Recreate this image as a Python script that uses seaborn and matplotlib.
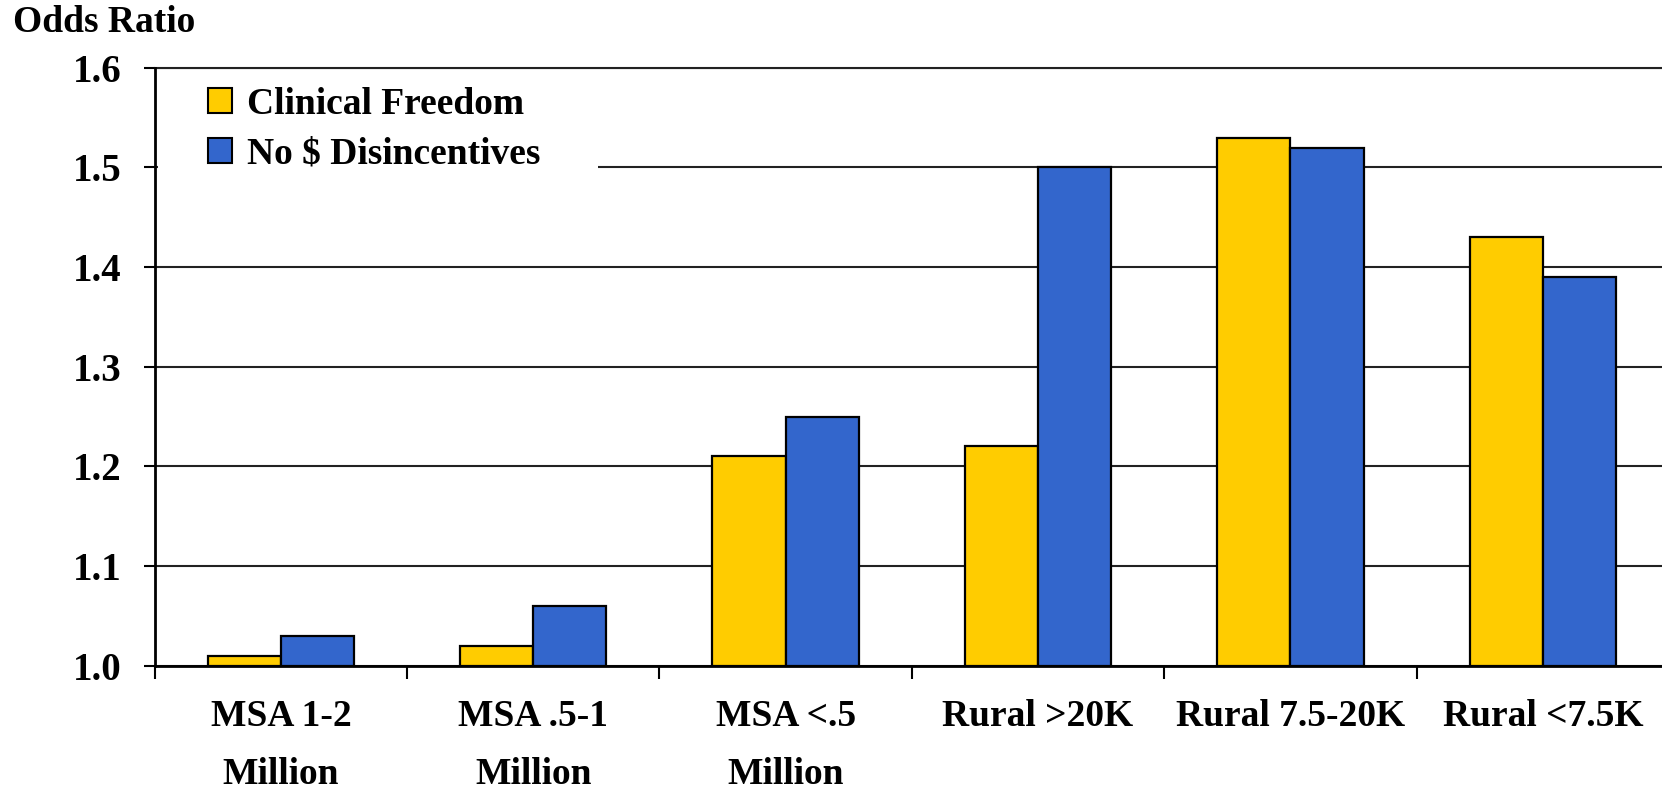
import pandas as pd
import matplotlib
matplotlib.use("Agg")
import matplotlib.pyplot as plt
from matplotlib.patches import Rectangle
import seaborn as sns

# data
regions = ["MSA 1-2\nMillion", "MSA .5-1\nMillion", "MSA <.5\nMillion",
           "Rural >20K", "Rural 7.5-20K", "Rural <7.5K"]
series = ["Clinical Freedom", "No $ Disincentives"]
clinical_freedom = [1.01, 1.02, 1.21, 1.22, 1.53, 1.43]
no_disincentives = [1.03, 1.06, 1.25, 1.50, 1.52, 1.39]
y_ticks = [1.0, 1.1, 1.2, 1.3, 1.4, 1.5, 1.6]

colors = ["#FFCC00", "#3366CC"]

df = pd.DataFrame({
    "region": regions * 2,
    "series": [series[0]] * len(regions) + [series[1]] * len(regions),
    "odds": clinical_freedom + no_disincentives,
})

sns.set_theme(style="white")
plt.rcParams["font.family"] = ["Liberation Serif", "DejaVu Serif"]
plt.rcParams["font.weight"] = "bold"
plt.rcParams["text.color"] = "black"
plt.rcParams["xtick.color"] = "black"
plt.rcParams["ytick.color"] = "black"

fig = plt.figure(figsize=(16.62, 7.94), dpi=100)
ax = fig.add_axes([0.0931, 0.1616, 0.9111, 0.753])

sns.barplot(data=df, x="region", y="odds", hue="series", hue_order=series,
            palette=colors, width=0.58, edgecolor="black", linewidth=1.6,
            saturation=1, ax=ax, zorder=3)

# bars start at the 1.0 baseline
for p in ax.patches:
    h = p.get_height()
    if h > 0:
        p.set_y(1.0)
        p.set_height(h - 1.0)

ax.set_ylim(1.0, 1.6)
ax.set_xlim(-0.5, 5.5)
ax.set_yticks(y_ticks)
ax.set_yticklabels([f"{v:.1f}" for v in y_ticks], fontsize=28, fontweight="bold")
ax.set_xticks(range(len(regions)))
ax.set_xticklabels(regions, fontsize=27, fontweight="bold", linespacing=1.85)
ax.set_xticks([i - 0.5 for i in range(len(regions) + 1)], minor=True)
ax.tick_params(axis="x", which="major", length=0, pad=24, labelcolor="black")
ax.tick_params(axis="x", which="minor", length=9, width=1.5, color="black",
               direction="out", bottom=True)
ax.tick_params(axis="y", length=8, width=1.5, color="black", direction="out",
               left=True, pad=16, labelcolor="black")
ax.set_xlabel("")
ax.set_ylabel("")

ax.yaxis.grid(True, color="#222222", linewidth=1.5, zorder=0)
ax.set_axisbelow(True)
for side in ["left", "bottom"]:
    ax.spines[side].set_color("black")
    ax.spines[side].set_linewidth(2)
    ax.spines[side].set_zorder(6)
ax.spines["right"].set_visible(False)
ax.spines["top"].set_color("#222222")
ax.spines["top"].set_linewidth(1.5)

# white box behind the legend, hiding part of the 1.5 gridline
ax.add_patch(Rectangle((0.002, 0.77), 0.291, 0.17, transform=ax.transAxes,
                       facecolor="white", edgecolor="none", zorder=4))

handles, labels = ax.get_legend_handles_labels()
leg = ax.legend(handles, labels, loc="upper left", bbox_to_anchor=(0.035, 0.968),
                frameon=False, prop={"size": 27, "weight": "bold"},
                handlelength=0.65, handleheight=0.65, handletextpad=0.4,
                labelspacing=0.4, borderpad=0.0, borderaxespad=0.0,
                labelcolor="black")
leg.set_zorder(5)
for h in leg.legend_handles:
    h.set_edgecolor("black")
    h.set_linewidth(1.5)

fig.text(13 / 1662, 1 - 32 / 794, "Odds Ratio", fontsize=27, fontweight="bold",
         va="baseline", ha="left", color="black")

fig.savefig("out.png", dpi=100)
